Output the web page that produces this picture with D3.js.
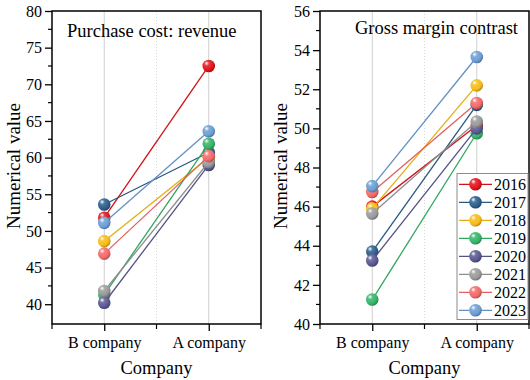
<!DOCTYPE html>
<html><head><meta charset="utf-8">
<script src="https://cdn.jsdelivr.net/npm/d3@7"></script>
<style>
body{margin:0;background:#fff}
text{font-family:"Liberation Serif","Times New Roman",serif;fill:#000}
</style>
</head><body>
<svg id="chart" width="530" height="380"></svg>
<script>
// ---------- data ----------
const categories = ["B company", "A company"];
const years = ["2016", "2017", "2018", "2019", "2020", "2021", "2022", "2023"];
const colors = ["#e3151b", "#2d5f8c", "#f7bd17", "#36b56a", "#5a5a94", "#9b9b9b", "#f46a6a", "#6c9fd3"];
// Purchase cost : revenue  [B company, A company]
const costB = [51.8, 53.6, 48.6, 41.3, 40.2, 41.8, 46.9, 51.1];
const costA = [72.5, 60.7, 60.0, 61.9, 59.0, 59.4, 60.2, 63.6];
// Gross margin contrast [B company, A company]
const marginB = [46.0, 43.7, 45.9, 41.25, 43.25, 45.65, 46.75, 47.05];
const marginA = [50.15, 51.2, 52.2, 49.75, 50.0, 50.35, 51.3, 53.65];
const leftTicks = [40, 45, 50, 55, 60, 65, 70, 75, 80];
const leftMinor = [42.5, 47.5, 52.5, 57.5, 62.5, 67.5, 72.5, 77.5];
const rightTicks = [40, 42, 44, 46, 48, 50, 52, 54, 56];
const rightMinor = [41, 43, 45, 47, 49, 51, 53, 55];

const svg = d3.select("#chart");
const defs = svg.append("defs");
colors.forEach((c, i) => {
  const g = defs.append("radialGradient").attr("id", "sph" + i)
    .attr("cx", "38%").attr("cy", "35%").attr("r", "65%").attr("fx", "32%").attr("fy", "28%");
  const base = d3.color(c);
  g.append("stop").attr("offset", "0%").attr("stop-color", "#ffffff");
  g.append("stop").attr("offset", "30%").attr("stop-color", d3.interpolateRgb(c, "#fff")(0.15));
  g.append("stop").attr("offset", "75%").attr("stop-color", c);
  g.append("stop").attr("offset", "100%").attr("stop-color", base.darker(0.8).formatHex());
});

function panel(opts) {
  const {x0, x1, y0, y1, domain, ticks, minor, bVals, aVals, title, titleX, titleY, titleAnchor, ylabX} = opts;
  const x = d3.scaleLinear().domain([0.5, 2.5]).range([x0, x1]);
  const y = d3.scaleLinear().domain(domain).range([y1, y0]);
  const g = svg.append("g");

  // grid
  [1, 2].forEach(v => g.append("line").attr("x1", x(v)).attr("x2", x(v)).attr("y1", y0).attr("y2", y1)
    .attr("stroke", "#cfcfcf").attr("stroke-width", 1));
  g.append("line").attr("x1", x(1.5)).attr("x2", x(1.5)).attr("y1", y0).attr("y2", y1)
    .attr("stroke", "#d8d8d8").attr("stroke-width", 1).attr("stroke-dasharray", "1,2");

  // y axis
  const yAx = g.append("g").attr("transform", `translate(${x0},0)`)
    .call(d3.axisLeft(y).tickValues(ticks).tickSize(7).tickPadding(3).tickFormat(d3.format("d")));
  yAx.select(".domain").remove();
  yAx.selectAll("line").attr("stroke", "#000").attr("stroke-width", 1.3);
  yAx.selectAll("text").style("font-size", "16px").style("font-family", "'Liberation Serif',serif");
  minor.forEach(v => g.append("line").attr("x1", x0 - 4).attr("x2", x0).attr("y1", y(v)).attr("y2", y(v))
    .attr("stroke", "#000").attr("stroke-width", 1.2));

  // x axis
  const xAx = g.append("g").attr("transform", `translate(0,${y1})`)
    .call(d3.axisBottom(x).tickValues([1, 2]).tickSize(7).tickPadding(6).tickFormat((d, i) => categories[i]));
  xAx.select(".domain").remove();
  xAx.selectAll("line").attr("stroke", "#000").attr("stroke-width", 1.3);
  xAx.selectAll("text").style("font-size", "16px").style("font-family", "'Liberation Serif',serif");
  [0.5, 1.5, 2.5].forEach(v => g.append("line").attr("x1", x(v)).attr("x2", x(v)).attr("y1", y1).attr("y2", y1 + 5)
    .attr("stroke", "#000").attr("stroke-width", 1.2));

  // frame
  g.append("rect").attr("x", x0).attr("y", y0).attr("width", x1 - x0).attr("height", y1 - y0)
    .attr("fill", "none").attr("stroke", "#000").attr("stroke-width", 1.5);

  // series
  years.forEach((yr, i) => {
    const pts = [[1, bVals[i]], [2, aVals[i]]];
    const sg = g.append("g");
    sg.append("path").attr("d", d3.line().x(d => x(d[0])).y(d => y(d[1]))(pts))
      .attr("fill", "none").attr("stroke", d3.color(colors[i]).darker(0.25)).attr("stroke-width", 1.3);
    sg.selectAll("circle").data(pts).join("circle")
      .attr("cx", d => x(d[0])).attr("cy", d => y(d[1])).attr("r", 6.3)
      .attr("fill", `url(#sph${i})`);
  });

  // title
  g.append("text").attr("x", titleX).attr("y", titleY).attr("text-anchor", titleAnchor)
    .style("font-size", "18.5px").text(title);
  // axis titles
  g.append("text").attr("x", (x0 + x1) / 2).attr("y", 374).attr("text-anchor", "middle")
    .style("font-size", "18.5px").text("Company");
  g.append("text").attr("transform", `translate(${ylabX},166) rotate(-90)`)
    .attr("text-anchor", "middle").style("font-size", "19px").text("Numerical value");
  return {x, y, g};
}

panel({x0: 52, x1: 261, y0: 11, y1: 324, domain: [37.3, 80], ticks: leftTicks, minor: leftMinor,
  bVals: costB, aVals: costA, title: "Purchase cost: revenue", titleX: 67, titleY: 37, titleAnchor: "start", ylabX: 20});
panel({x0: 320, x1: 529, y0: 11, y1: 324, domain: [40, 56], ticks: rightTicks, minor: rightMinor,
  bVals: marginB, aVals: marginA, title: "Gross margin contrast", titleX: 518, titleY: 34, titleAnchor: "end", ylabX: 287});

// legend
const lg = svg.append("g");
lg.append("rect").attr("x", 457).attr("y", 173.5).attr("width", 71).attr("height", 146)
  .attr("fill", "#fff").attr("stroke", "#8c8c8c").attr("stroke-width", 1);
years.forEach((yr, i) => {
  const yy = 184.3 + i * 18;
  lg.append("line").attr("x1", 459).attr("x2", 492).attr("y1", yy).attr("y2", yy)
    .attr("stroke", d3.color(colors[i]).darker(0.25)).attr("stroke-width", 1.3);
  lg.append("circle").attr("cx", 475.5).attr("cy", yy).attr("r", 6.3).attr("fill", `url(#sph${i})`);
  lg.append("text").attr("x", 494).attr("y", yy + 5.5).style("font-size", "16px").text(yr);
});
</script>
</body></html>
